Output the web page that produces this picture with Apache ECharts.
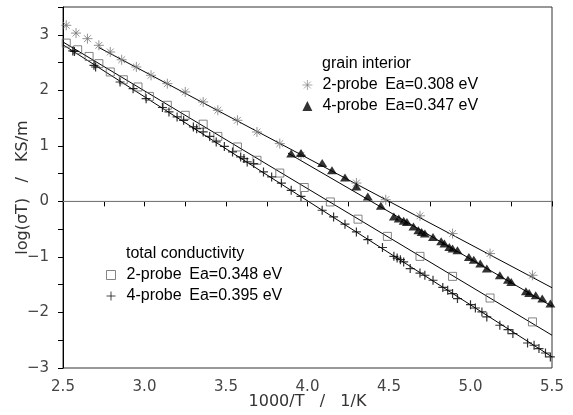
<!DOCTYPE html>
<html><head><meta charset="utf-8">
<script src="https://cdn.jsdelivr.net/npm/echarts@6/dist/echarts.min.js"></script>
<style>html,body{margin:0;padding:0;background:#fff}#c{width:573px;height:415px}</style>
</head><body><div id="c"></div>
<script>
// x = 1000/T (1/K), y = log(sigma T) (K S/m)
const grain2probe = [[2.52,3.17],[2.58,3.03],[2.65,2.93],[2.72,2.81],[2.79,2.69],[2.86,2.55],[2.95,2.42],[3.04,2.27],[3.14,2.12],[3.25,1.97],[3.36,1.79],[3.45,1.64],[3.57,1.46],[3.69,1.25],[3.83,1.04],[3.96,0.83],[4.30,0.33],[4.48,0.03],[4.69,-0.26],[4.89,-0.58],[5.12,-0.94],[5.38,-1.33]];
const grain4probe = [[3.90,0.86],[3.96,0.87],[4.09,0.69],[4.15,0.56],[4.23,0.43],[4.30,0.27],[4.37,0.09],[4.45,-0.08],[4.53,-0.27],[4.56,-0.31],[4.59,-0.35],[4.61,-0.37],[4.65,-0.45],[4.68,-0.52],[4.70,-0.55],[4.72,-0.58],[4.77,-0.64],[4.82,-0.72],[4.84,-0.76],[4.87,-0.82],[4.89,-0.85],[4.92,-0.88],[4.99,-1.00],[5.02,-1.05],[5.06,-1.12],[5.10,-1.21],[5.18,-1.33],[5.23,-1.41],[5.25,-1.45],[5.34,-1.62],[5.36,-1.65],[5.40,-1.69],[5.44,-1.75],[5.49,-1.84]];
const total2probe = [[2.52,2.85],[2.59,2.73],[2.66,2.61],[2.72,2.48],[2.79,2.33],[2.87,2.19],[2.96,2.06],[3.03,1.89],[3.14,1.73],[3.25,1.55],[3.36,1.39],[3.45,1.17],[3.57,0.98],[3.69,0.74],[3.83,0.51],[3.98,0.25],[4.14,-0.01],[4.31,-0.32],[4.49,-0.63],[4.69,-0.99],[4.89,-1.35],[5.12,-1.74],[5.38,-2.17]];
const total4probe = [[2.56,2.71],[2.57,2.70],[2.69,2.45],[2.70,2.42],[2.85,2.15],[2.93,2.03],[3.01,1.85],[3.11,1.69],[3.15,1.61],[3.20,1.52],[3.24,1.46],[3.30,1.34],[3.32,1.31],[3.36,1.25],[3.40,1.17],[3.44,1.07],[3.49,0.99],[3.54,0.89],[3.59,0.80],[3.61,0.77],[3.63,0.71],[3.67,0.68],[3.73,0.53],[3.78,0.44],[3.84,0.33],[3.90,0.20],[3.96,0.09],[4.09,-0.16],[4.16,-0.28],[4.23,-0.41],[4.30,-0.55],[4.37,-0.69],[4.46,-0.83],[4.53,-0.99],[4.55,-1.02],[4.57,-1.05],[4.59,-1.09],[4.63,-1.21],[4.69,-1.29],[4.72,-1.33],[4.77,-1.42],[4.83,-1.55],[4.86,-1.60],[4.89,-1.66],[4.92,-1.75],[5.00,-1.86],[5.03,-1.92],[5.07,-1.99],[5.10,-2.08],[5.18,-2.23],[5.23,-2.31],[5.26,-2.38],[5.35,-2.55],[5.39,-2.59],[5.42,-2.65],[5.46,-2.73],[5.49,-2.80]];
// fitted lines (end points)
const fitGrain2 = [[2.72,2.77],[5.5,-1.555]];
const fitGrain4 = [[3.88,0.87],[5.5,-1.89]];
const fitTotal2 = [[2.5,2.87],[5.5,-2.41]];
const fitTotal4 = [[2.5,2.82],[5.5,-2.80]];
const zeroLine = [[2.5,0],[5.5,0]];
const names = {
  g2: '2-probe \u2009Ea=0.308 eV',
  g4: '4-probe \u2009Ea=0.347 eV',
  t2: '2-probe \u2009Ea=0.348 eV',
  t4: '4-probe \u2009Ea=0.395 eV'
};
const headings = ['grain interior', 'total conductivity'];

const ASTER = 'path://M5,0L5,10M0,5L10,5M1.6,1.6L8.4,8.4M8.4,1.6L1.6,8.4';
const PLUS = 'path://M5,0L5,10M0,5L10,5';
const TXT = 'Liberation Sans';
const AX = 'DejaVu Sans';

const chart = echarts.init(document.getElementById('c'), null, {renderer:'canvas'});
function fit(d){ return {type:'line', data:d, showSymbol:false, symbol:'none', silent:true, lineStyle:{color:'#000', width:1}, z:1}; }
const clear = 'rgba(0,0,0,0)';
chart.setOption({
  animation:false,
  backgroundColor:'#fff',
  grid:{left:63, right:21, top:7, bottom:47, show:true, borderColor:'#333', borderWidth:1, containLabel:false, outerBoundsMode:'none'},
  title:[
    {text:headings[0], left:322, top:56, padding:0, textStyle:{fontFamily:TXT, fontSize:16, fontWeight:'normal', color:'#000'}},
    {text:headings[1], left:126, top:246, padding:0, textStyle:{fontFamily:TXT, fontSize:16, fontWeight:'normal', color:'#000'}}
  ],
  legend:[
    {data:[{name:names.g2, itemStyle:{color:clear, borderColor:'#777', borderWidth:0.8}}, {name:names.g4}],
     left:302, top:76, orient:'vertical', itemWidth:10, itemHeight:10, itemGap:3, padding:0,
     textStyle:{fontFamily:TXT, fontSize:16, color:'#000', lineHeight:18, padding:[0,0,0,5]}},
    {data:[{name:names.t2, itemStyle:{color:clear, borderColor:'#666', borderWidth:1}}, {name:names.t4, itemStyle:{color:clear, borderColor:'#000', borderWidth:0.9}}],
     left:106, top:266, orient:'vertical', itemWidth:9, itemHeight:9, itemGap:3, padding:0,
     textStyle:{fontFamily:TXT, fontSize:16, color:'#000', lineHeight:18, padding:[0,0,0,6]}}
  ],
  xAxis:{type:'value', min:2.5, max:5.5, interval:0.25,
    name:'1000/T   /   1/K', nameLocation:'middle', nameGap:26, nameMoveOverlap:false,
    nameTextStyle:{fontFamily:AX, fontSize:16, color:'#333'},
    axisLine:{lineStyle:{color:'#000', width:1}},
    axisTick:{inside:false, length:5, lineStyle:{color:'#000'}},
    axisLabel:{margin:12, fontFamily:AX, fontSize:15, color:'#444',
      formatter:v=>Math.abs(v*2-Math.round(v*2))<1e-6 ? v.toFixed(1) : ''},
    splitLine:{show:false}},
  yAxis:{type:'value', min:-3, max:3.5, interval:0.5,
    name:'log(σT)   /   KS/m', nameLocation:'middle', nameGap:32, nameRotate:90, nameMoveOverlap:false,
    nameTextStyle:{fontFamily:AX, fontSize:16, color:'#333'},
    axisLine:{lineStyle:{color:'#000', width:1}},
    axisTick:{inside:false, length:5, lineStyle:{color:'#000'}},
    axisLabel:{margin:14, fontFamily:AX, fontSize:15, color:'#444',
      formatter:v=>(Math.abs(v-Math.round(v))<1e-6 && v<3.4) ? (v<0 ? '\u2212'+Math.abs(v) : String(v)) : ''},
    splitLine:{show:false}},
  series:[
    {type:'line', data:zeroLine, symbol:'none', silent:true, lineStyle:{color:'#888', width:1}, z:0},
    fit(fitGrain2), fit(fitGrain4), fit(fitTotal2), fit(fitTotal4),
    {name:names.g2, type:'scatter', data:grain2probe, symbol:ASTER, symbolSize:10,
      itemStyle:{color:clear, borderColor:'#777', borderWidth:1}, z:3},
    {name:names.g4, type:'scatter', data:grain4probe, symbol:'triangle', symbolSize:[10,8],
      itemStyle:{color:'#000'}, z:3},
    {name:names.t2, type:'scatter', data:total2probe, symbol:'rect', symbolSize:8,
      itemStyle:{color:clear, borderColor:'#666', borderWidth:1}, z:3},
    {name:names.t4, type:'scatter', data:total4probe, symbol:PLUS, symbolSize:9,
      itemStyle:{color:clear, borderColor:'#000', borderWidth:1.2}, z:3}
  ]
});
</script></body></html>
